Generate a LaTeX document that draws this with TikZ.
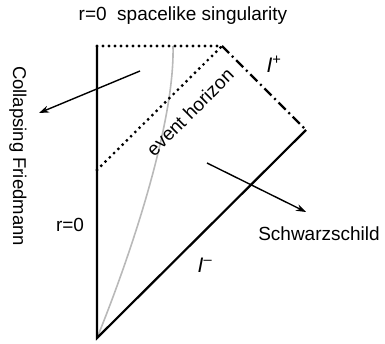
\documentclass[tikz,border=0pt]{standalone}
\usepackage{fontspec}
\setmainfont{Liberation Sans}
\usetikzlibrary{arrows.meta}
\begin{document}
\begin{tikzpicture}[x=1pt,y=-1pt,
  solidline/.style={line width=2.2pt},
  dotline/.style={line width=3.2pt,line cap=round,dash pattern=on 0pt off 6pt},
  dashdotline/.style={line width=2.4pt,dash pattern=on 10pt off 4pt on 2pt off 4pt},
  arrowline/.style={line width=1.4pt,-{Stealth[length=10pt,width=7pt]}},
  lbl/.style={font=\fontsize{19}{22}\selectfont,inner sep=0pt},
  bigi/.style={font=\fontsize{21}{24}\selectfont,inner sep=0pt}]
\useasboundingbox (0,0) rectangle (385,344);
\coordinate (bot) at (97,338);
\coordinate (tl) at (97,46);
\coordinate (tr) at (222,46);
\coordinate (rc) at (306,130);
\coordinate (eh) at (97,170);
\coordinate (ctop) at (173,46);
\coordinate (a1s) at (140,71);
\coordinate (a1e) at (39,113);
\coordinate (a2s) at (207,163);
\coordinate (a2e) at (306,212);
% surface of the star
\draw[gray!55,line width=1.6pt] (bot) .. controls (128,262) and (175,125) .. (ctop);
% boundaries
\draw[solidline] (tl) -- (bot) -- (rc);
\draw[dotline] (tl) -- (tr);
\draw[dotline] (eh) -- (tr);
\draw[dashdotline] (tr) -- (rc);
% arrows
\draw[arrowline] (a1s) -- (a1e);
\draw[arrowline] (a2s) -- (a2e);
% labels
\node[lbl] (sing) at (183,16) {r=0\ \ spacelike singularity};
\node[lbl,font=\fontsize{18.5}{22}\selectfont,rotate=-90] (cf) at (18,156) {Collapsing Friedmann};
\node[lbl,rotate=45] (evh) at (190,112) {event horizon};
\node[bigi] (ip) at (274,64) {\textit{I}\textsuperscript{+}};
\node[lbl] (sch) at (319,234) {Schwarzschild};
\node[lbl] (r0) at (70,225) {r=0};
\node[bigi] (im) at (205,265) {\textit{I}\textsuperscript{--}};
\end{tikzpicture}
\end{document}
